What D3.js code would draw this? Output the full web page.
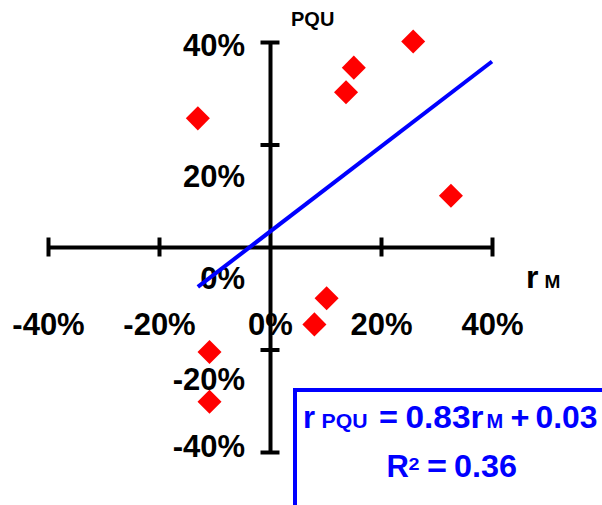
<!DOCTYPE html>
<html>
<head>
<meta charset="utf-8">
<script src="https://cdn.jsdelivr.net/npm/d3@7"></script>
<style>
  html, body { margin: 0; padding: 0; background: #fff; }
  svg { display: block; }
  text { font-family: "Liberation Sans", Arial, sans-serif; font-weight: bold; }
</style>
</head>
<body>
<svg id="chart" width="602" height="505"></svg>
<script>
// ---- data ----
const marketReturns = [25.8, 15.1, 13.7, -13.0, 32.6, 10.2, 8.0, -10.9, -10.9];   // r_M (%)
const pquReturns    = [40.1, 35.0, 30.2, 25.1, 10.0, -10.0, -15.1, -20.5, -30.2]; // r_PQU (%)
const tickValues    = [-40, -20, 0, 20, 40];
const tickLabels    = ["-40%", "-20%", "0%", "20%", "40%"];
const trendSlope     = 0.83;
const trendIntercept = 3;      // in %
const trendRange     = [-13, 40];
const rSquared       = 0.36;

// ---- layout ----
const svg = d3.select("#chart");
svg.append("rect").attr("width", 602).attr("height", 505).attr("fill", "#fff");

const x = d3.scaleLinear().domain([-40, 40]).range([48, 492]);
const y = d3.scaleLinear().domain([-40, 40]).range([452, 42]);

// per-label baseline shifts of y labels (layout of the original)
const yLabelBaseline = { "40": 13, "20": 42, "0": 41, "-20": 39.5, "-40": 4.5 };

const labelFmt = d => tickLabels[tickValues.indexOf(d)];

// X axis
const gx = svg.append("g").attr("transform", `translate(0,${y(0)})`)
  .call(d3.axisBottom(x).tickValues(tickValues).tickFormat(labelFmt).tickSizeOuter(0));
gx.select(".domain").attr("stroke", "#000").attr("stroke-width", 4);
gx.selectAll(".tick line").attr("stroke", "#000").attr("stroke-width", 4)
  .attr("y1", -9.5).attr("y2", 9.5)
  .filter(d => d === 0).remove();
gx.selectAll(".tick text").attr("y", 88).attr("dy", null)
  .attr("fill", "#000").attr("font-size", 31).attr("font-family", null);

// Y axis
const gy = svg.append("g").attr("transform", `translate(${x(0)},0)`)
  .call(d3.axisLeft(y).tickValues(tickValues).tickFormat(labelFmt).tickSizeOuter(0));
gy.select(".domain").attr("stroke", "#000").attr("stroke-width", 4);
gy.selectAll(".tick line").attr("stroke", "#000").attr("stroke-width", 4)
  .attr("x1", -9.5).attr("x2", 9.5)
  .filter(d => d === 0).remove();
gy.selectAll(".tick text").attr("x", -25).attr("dy", null)
  .attr("y", d => yLabelBaseline[String(d)])
  .attr("text-anchor", "end")
  .attr("fill", "#000").attr("font-size", 31).attr("font-family", null);
gx.attr("font-family", null).attr("font-size", null);
gy.attr("font-family", null).attr("font-size", null);

// Axis titles
svg.append("text").attr("x", 291).attr("y", 26).attr("font-size", 20).attr("fill", "#000").text("PQU");
const rm = svg.append("text").attr("x", 526).attr("y", 287.5).attr("fill", "#000");
rm.append("tspan").attr("font-size", 32).text("r");
rm.append("tspan").attr("font-size", 19).attr("dx", 6).text("M");

// Trend line
svg.append("line")
  .attr("x1", x(trendRange[0])).attr("y1", y(trendSlope * trendRange[0] + trendIntercept))
  .attr("x2", x(trendRange[1])).attr("y2", y(trendSlope * trendRange[1] + trendIntercept))
  .attr("stroke", "#0000ff").attr("stroke-width", 4);

// Points (diamonds)
const diamond = d3.symbol().type(d3.symbolSquare).size(17 * 17);
svg.append("g").selectAll("path")
  .data(marketReturns.map((m, i) => [m, pquReturns[i]]))
  .join("path")
  .attr("d", diamond)
  .attr("transform", d => `translate(${x(d[0])},${y(d[1])}) rotate(45)`)
  .attr("fill", "#ff0000");

// Equation box
svg.append("rect").attr("x", 295).attr("y", 390).attr("width", 340).attr("height", 160)
  .attr("fill", "#fff").attr("stroke", "#0000ff").attr("stroke-width", 4);

const eq = svg.append("text").attr("y", 428).attr("fill", "#0000ff").attr("font-size", 31);
eq.append("tspan").attr("x", 303).text("r");
eq.append("tspan").attr("x", 321.5).attr("font-size", 20).attr("textLength", 46).attr("lengthAdjust", "spacingAndGlyphs").text("PQU");
eq.append("tspan").attr("x", 379).attr("textLength", 19).attr("lengthAdjust", "spacingAndGlyphs").text("=");
eq.append("tspan").attr("x", 405.5).attr("textLength", 78).attr("lengthAdjust", "spacingAndGlyphs").text(`${trendSlope.toFixed(2)}r`);
eq.append("tspan").attr("x", 486.5).attr("font-size", 20).text("M");
eq.append("tspan").attr("x", 510.5).attr("textLength", 19).attr("lengthAdjust", "spacingAndGlyphs").text("+");
eq.append("tspan").attr("x", 535.5).attr("textLength", 62).attr("lengthAdjust", "spacingAndGlyphs").text(`${(trendIntercept / 100).toFixed(2)}`);

const r2 = svg.append("text").attr("y", 477).attr("fill", "#0000ff").attr("font-size", 31);
r2.append("tspan").attr("x", 386.5).text("R");
r2.append("tspan").attr("x", 408.5).attr("y", 469.5).attr("font-size", 17)
  .attr("textLength", 11).attr("lengthAdjust", "spacingAndGlyphs").text("2");
r2.append("tspan").attr("x", 427).attr("y", 477).attr("textLength", 20).attr("lengthAdjust", "spacingAndGlyphs").text("=");
r2.append("tspan").attr("x", 454).attr("textLength", 63).attr("lengthAdjust", "spacingAndGlyphs").text(`${rSquared.toFixed(2)}`);
</script>
</body>
</html>
